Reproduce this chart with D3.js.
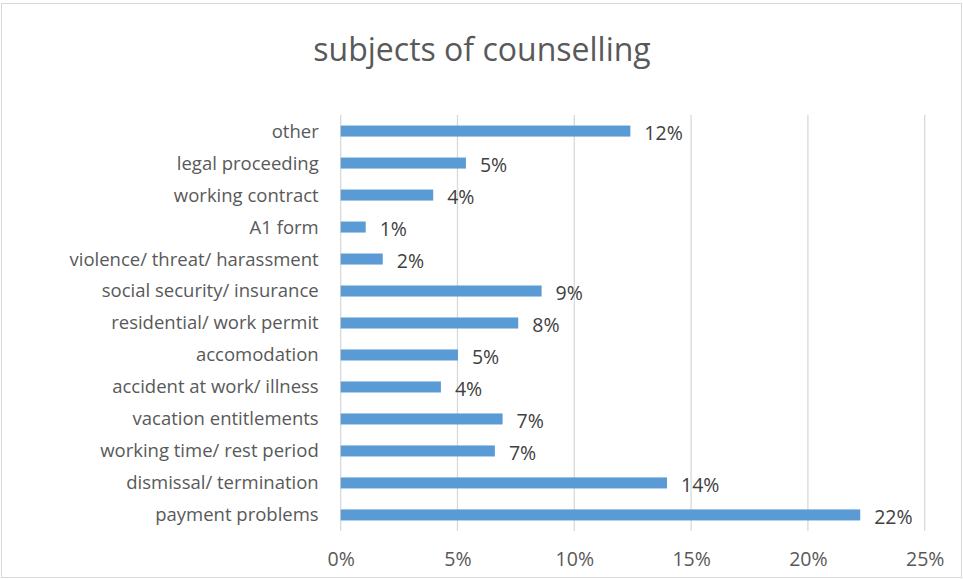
<!DOCTYPE html>
<html><head><meta charset="utf-8">
<script src="https://cdn.jsdelivr.net/npm/d3@7"></script>
<style>body{margin:0;background:#fff}svg{display:block}</style>
</head><body>
<script>
const categories = ["other","legal proceeding","working contract","A1 form","violence/ threat/ harassment","social security/ insurance","residential/ work permit","accomodation","accident at work/ illness","vacation entitlements","working time/ rest period","dismissal/ termination","payment problems"];
const values = [12.4, 5.36, 3.96, 1.07, 1.8, 8.6, 7.6, 5.02, 4.29, 6.93, 6.6, 13.97, 22.24];
const valueLabels = ["12%","5%","4%","1%","2%","9%","8%","5%","4%","7%","7%","14%","22%"];
const tickValues = [0,5,10,15,20,25];
const title = "subjects of counselling";

const W=963,H=579;
const font="'Open Sans', sans-serif";
const svg=d3.select("body").append("svg").attr("width",W).attr("height",H);
svg.append("rect").attr("x",1.5).attr("y",3.5).attr("width",W-3).attr("height",H-5).attr("fill","#fff").attr("stroke","#d9d9d9");

const x=d3.scaleLinear().domain([0,25]).range([340.7,924.7]);
const y=d3.scaleBand().domain(categories).range([115,531]).paddingInner(0.655).paddingOuter(0.33);

svg.append("text").attr("x",482).attr("y",61).attr("text-anchor","middle").attr("font-family",font).attr("font-size",32).attr("fill","#595959").text(title);

const g=svg.append("g");
g.selectAll("line.grid").data(tickValues).join("line").attr("class","grid")
 .attr("x1",d=>x(d)).attr("x2",d=>x(d)).attr("y1",115).attr("y2",531)
 .attr("stroke","#d9d9d9").attr("stroke-width",1.3);

g.selectAll("rect.bar").data(values).join("rect").attr("class","bar")
 .attr("x",x(0)).attr("y",(d,i)=>y(categories[i])).attr("width",d=>x(d)-x(0)).attr("height",y.bandwidth())
 .attr("fill","#5b9bd5");

g.selectAll("text.val").data(values).join("text").attr("class","val")
 .attr("x",d=>x(d)+14).attr("y",(d,i)=>y(categories[i])+y.bandwidth()/2+9)
 .attr("font-family",font).attr("font-size",19.5).attr("fill","#404040").text((d,i)=>valueLabels[i]);

const ya=d3.axisLeft(y).tickSize(0).tickPadding(22);
const yg=svg.append("g").attr("transform",`translate(${x(0)},0)`).call(ya);
yg.select(".domain").remove();
yg.selectAll("text").attr("font-family",font).attr("font-size",18.5).attr("fill","#595959").attr("dy","0.35em");

const xa=d3.axisBottom(x).tickValues(tickValues).tickSize(0).tickPadding(21).tickFormat(d=>d+"%");
const xg=svg.append("g").attr("transform","translate(0,531)").call(xa);
xg.select(".domain").remove();
xg.selectAll("text").attr("font-family",font).attr("font-size",19.5).attr("fill","#595959");
</script>
</body></html>
